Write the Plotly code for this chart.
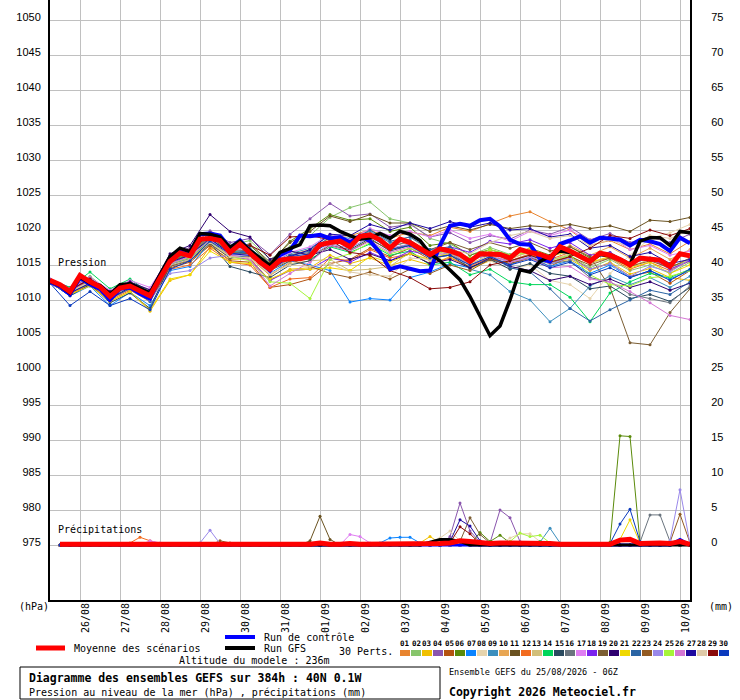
import datetime as dt
import plotly.graph_objects as go

run_start = dt.datetime(2026, 8, 25, 6)

# pression (hPa), pas de 6h de 0h a 384h
mean_pressure = [
    1012.8, 1012.2, 1011.2, 1013.5, 1012.6, 1011.9, 1010.5, 1011.7,
    1012.0, 1011.2, 1010.6, 1013.1, 1015.5, 1016.7, 1016.3, 1018.7,
    1018.8, 1018.5, 1016.8, 1018.0, 1016.6, 1015.4, 1014.4, 1015.7,
    1015.9, 1015.9, 1016.2, 1017.9, 1018.2, 1018.4, 1017.6, 1019.1,
    1019.3, 1018.6, 1017.4, 1018.7, 1018.2, 1017.4, 1016.5, 1017.3,
    1017.0, 1016.5, 1015.5, 1016.6, 1016.6, 1016.5, 1016.0, 1017.2,
    1016.8, 1016.5, 1016.0, 1017.6, 1017.0, 1016.3, 1015.5, 1016.7,
    1016.4, 1015.8, 1015.0, 1016.0, 1015.8, 1015.7, 1014.8, 1016.6,
    1016.3]
control_pressure = [
    1012.6, 1011.9, 1010.8, 1013.2, 1012.2, 1011.6, 1010.0, 1011.6,
    1011.8, 1010.9, 1010.2, 1013.4, 1015.9, 1017.1, 1016.8, 1019.4,
    1019.5, 1019.2, 1017.4, 1018.5, 1017.0, 1015.6, 1014.2, 1016.4,
    1017.1, 1019.2, 1019.1, 1019.3, 1018.8, 1019.0, 1018.2, 1019.2,
    1018.4, 1016.8, 1014.4, 1014.8, 1014.5, 1014.1, 1014.2, 1017.8,
    1020.6, 1020.9, 1020.6, 1021.4, 1021.6, 1020.5, 1018.6, 1018.0,
    1017.9, 1015.9, 1015.5, 1018.0, 1018.5, 1019.1, 1018.2, 1018.9,
    1018.8, 1018.6, 1017.8, 1018.6, 1018.4, 1018.0, 1017.0, 1018.9,
    1018.1]
gfs_pressure = [
    1012.7, 1012.1, 1011.0, 1013.3, 1012.4, 1012.1, 1010.8, 1012.2,
    1012.3, 1011.6, 1011.0, 1013.6, 1016.2, 1017.4, 1016.9, 1019.5,
    1019.4, 1019.0, 1017.5, 1018.4, 1017.1, 1016.0, 1014.9, 1016.8,
    1017.4, 1017.9, 1020.6, 1020.7, 1020.6, 1019.8, 1019.2, 1018.7,
    1018.9, 1019.5, 1018.8, 1019.8, 1019.4, 1018.5, 1016.6, 1015.6,
    1014.3, 1012.9, 1010.5, 1007.6, 1004.9, 1006.3, 1010.0, 1014.3,
    1014.0, 1015.5, 1016.2, 1017.0, 1016.8, 1016.3, 1015.5, 1016.5,
    1016.3, 1015.8, 1015.1, 1018.4, 1018.9, 1018.9, 1017.8, 1019.8,
    1019.6]

# perturbations, pas de 12h de 0h a 384h
pert01 = [1012.7, 1011.4, 1013.0, 1010.8, 1012.2, 1010.4, 1014.8, 1016.0, 1018.2, 1016.4, 1016.0, 1013.5, 1015.4, 1016.8, 1019.0, 1019.2, 1020.0,
          1018.8, 1019.7, 1019.2, 1020.4, 1019.8, 1020.9, 1022.0, 1022.6, 1021.2, 1020.0, 1017.8, 1018.5, 1017.2, 1018.0, 1016.6, 1018.4]
pert02 = [1012.9, 1011.5, 1013.4, 1011.1, 1012.6, 1011.2, 1016.0, 1017.1, 1019.4, 1017.8, 1018.5, 1015.8, 1017.6, 1019.2, 1021.8, 1023.2, 1024.0,
          1021.6, 1021.0, 1018.8, 1018.0, 1016.4, 1017.5, 1016.5, 1017.1, 1015.7, 1016.4, 1014.6, 1015.8, 1014.2, 1015.0, 1013.8, 1015.4]
pert03 = [1012.5, 1010.8, 1012.2, 1009.8, 1011.2, 1008.4, 1012.8, 1013.6, 1017.6, 1015.8, 1015.9, 1012.8, 1014.4, 1014.6, 1016.4, 1015.2, 1016.0,
          1014.9, 1015.8, 1015.0, 1016.2, 1014.5, 1015.6, 1015.4, 1016.5, 1015.4, 1015.8, 1014.2, 1015.4, 1013.7, 1014.5, 1013.2, 1012.8]
pert04 = [1013.0, 1011.8, 1013.2, 1011.2, 1012.5, 1011.5, 1016.4, 1017.5, 1019.9, 1018.2, 1018.8, 1016.5, 1019.4, 1021.6, 1023.8, 1022.0, 1022.3,
          1020.4, 1020.8, 1019.0, 1019.6, 1018.2, 1019.2, 1018.7, 1020.0, 1019.4, 1020.4, 1018.6, 1019.5, 1018.2, 1019.0, 1018.2, 1019.4]
pert05 = [1012.6, 1011.0, 1012.4, 1010.2, 1011.6, 1010.0, 1014.6, 1015.4, 1017.8, 1015.6, 1015.4, 1011.8, 1012.2, 1013.0, 1015.2, 1015.8, 1017.4,
          1016.2, 1017.4, 1015.8, 1016.6, 1015.0, 1016.0, 1015.2, 1016.0, 1014.8, 1016.2, 1014.4, 1015.2, 1013.4, 1014.0, 1012.4, 1014.2]
pert06 = [1012.8, 1011.3, 1012.8, 1010.6, 1012.4, 1011.0, 1015.8, 1016.8, 1019.2, 1017.4, 1017.8, 1015.2, 1018.4, 1020.2, 1022.2, 1021.4, 1021.6,
          1019.8, 1020.4, 1017.8, 1018.2, 1016.4, 1017.2, 1016.4, 1017.4, 1016.4, 1017.6, 1016.0, 1016.8, 1015.2, 1016.0, 1014.8, 1015.6]
pert07 = [1012.5, 1010.6, 1012.0, 1009.2, 1011.1, 1009.2, 1014.2, 1014.8, 1018.2, 1016.0, 1016.4, 1013.8, 1015.6, 1015.0, 1014.2, 1009.7, 1010.2,
          1010.0, 1013.2, 1014.0, 1015.2, 1014.6, 1015.8, 1015.0, 1016.2, 1014.8, 1015.6, 1013.8, 1015.0, 1013.2, 1014.2, 1013.0, 1014.2]
pert08 = [1012.7, 1011.2, 1012.7, 1010.6, 1012.1, 1010.6, 1015.2, 1016.2, 1018.6, 1017.0, 1017.2, 1014.8, 1016.2, 1016.4, 1018.6, 1018.2, 1020.0,
          1018.2, 1019.0, 1016.8, 1017.0, 1014.8, 1015.6, 1014.4, 1015.0, 1012.8, 1012.2, 1010.2, 1013.8, 1016.4, 1018.8, 1019.6, 1020.8]
pert09 = [1012.6, 1011.0, 1012.6, 1010.4, 1011.8, 1010.2, 1015.2, 1016.4, 1019.0, 1017.2, 1017.4, 1015.2, 1016.6, 1017.4, 1019.2, 1018.8, 1019.8,
          1018.2, 1018.6, 1016.6, 1017.2, 1014.4, 1013.6, 1011.2, 1010.0, 1006.9, 1008.8, 1012.0, 1013.4, 1012.2, 1013.2, 1011.8, 1013.4]
pert10 = [1012.8, 1011.4, 1013.0, 1011.0, 1012.4, 1010.8, 1015.4, 1016.5, 1019.2, 1017.2, 1017.0, 1014.6, 1016.4, 1017.2, 1018.8, 1018.0, 1019.4,
          1017.8, 1018.2, 1016.2, 1016.8, 1015.4, 1017.0, 1015.8, 1017.0, 1016.2, 1017.8, 1016.4, 1017.6, 1016.0, 1017.4, 1015.8, 1017.2]
pert11 = [1012.9, 1011.6, 1013.2, 1011.0, 1012.4, 1011.2, 1016.0, 1017.0, 1019.6, 1017.6, 1018.0, 1015.4, 1018.2, 1019.8, 1022.0, 1021.2, 1022.2,
          1021.0, 1021.0, 1019.8, 1020.6, 1020.0, 1020.8, 1020.2, 1020.6, 1020.4, 1020.8, 1020.2, 1020.6, 1019.8, 1021.4, 1021.2, 1021.8]
pert12 = [1012.4, 1010.8, 1012.2, 1010.0, 1011.4, 1009.8, 1014.4, 1015.0, 1017.4, 1015.4, 1015.0, 1011.8, 1013.0, 1013.2, 1016.0, 1015.6, 1017.2,
          1016.0, 1016.6, 1015.2, 1016.0, 1014.8, 1016.2, 1015.6, 1016.6, 1015.8, 1016.8, 1015.4, 1016.0, 1014.4, 1015.4, 1014.2, 1015.6]
pert13 = [1012.7, 1011.1, 1012.8, 1010.4, 1011.9, 1010.4, 1015.0, 1015.6, 1018.0, 1016.2, 1016.0, 1013.6, 1015.2, 1015.6, 1015.8, 1014.2, 1014.4,
          1014.8, 1016.8, 1015.6, 1016.6, 1015.2, 1016.4, 1016.0, 1016.8, 1015.6, 1016.6, 1015.2, 1016.2, 1014.8, 1015.8, 1014.4, 1015.8]
pert14 = [1012.8, 1011.8, 1014.0, 1011.6, 1013.0, 1011.0, 1015.6, 1016.6, 1018.6, 1017.0, 1016.6, 1014.2, 1016.0, 1015.8, 1017.6, 1016.8, 1018.0,
          1016.4, 1017.0, 1015.0, 1015.4, 1013.6, 1014.4, 1012.6, 1012.2, 1012.2, 1010.4, 1006.9, 1011.0, 1012.6, 1013.8, 1013.2, 1014.4]
pert15 = [1012.5, 1010.6, 1012.2, 1009.6, 1011.0, 1008.8, 1015.0, 1015.8, 1018.2, 1014.8, 1014.0, 1013.2, 1015.0, 1015.6, 1017.8, 1017.2, 1018.8,
          1017.0, 1017.8, 1016.0, 1016.4, 1014.6, 1015.8, 1014.4, 1015.2, 1013.8, 1013.4, 1011.6, 1012.0, 1010.2, 1010.8, 1009.8, 1011.8]
pert16 = [1012.6, 1011.2, 1012.6, 1010.5, 1012.0, 1010.6, 1015.8, 1016.6, 1019.2, 1017.2, 1017.0, 1014.8, 1016.4, 1016.8, 1018.6, 1018.0, 1019.2,
          1017.6, 1018.4, 1016.8, 1017.4, 1015.8, 1016.8, 1015.6, 1016.4, 1015.2, 1015.6, 1013.2, 1012.6, 1010.8, 1010.2, 1009.6, 1012.0]
pert17 = [1013.0, 1011.6, 1013.2, 1011.4, 1012.8, 1011.8, 1016.2, 1017.2, 1019.4, 1017.4, 1017.2, 1015.0, 1016.8, 1017.6, 1019.4, 1018.6, 1020.2,
          1019.2, 1019.8, 1019.0, 1020.0, 1018.8, 1019.4, 1018.4, 1019.8, 1019.2, 1020.0, 1018.4, 1019.0, 1017.2, 1017.8, 1016.4, 1017.0]
pert18 = [1012.7, 1011.2, 1012.6, 1010.4, 1012.0, 1010.4, 1015.2, 1016.0, 1018.4, 1016.2, 1015.8, 1012.8, 1014.2, 1014.4, 1016.0, 1015.4, 1016.8,
          1015.6, 1017.0, 1016.4, 1017.6, 1016.8, 1018.4, 1018.0, 1018.6, 1017.4, 1018.2, 1016.4, 1016.8, 1015.2, 1016.0, 1014.4, 1015.6]
pert19 = [1012.6, 1011.1, 1012.4, 1010.4, 1011.8, 1010.2, 1014.8, 1015.6, 1018.0, 1016.0, 1016.2, 1014.2, 1015.6, 1016.2, 1017.8, 1017.0, 1018.6,
          1017.2, 1018.0, 1017.2, 1018.2, 1017.2, 1018.2, 1017.4, 1018.2, 1017.0, 1017.6, 1016.2, 1011.8, 1003.9, 1003.6, 1008.2, 1011.6]
pert20 = [1012.9, 1011.4, 1013.0, 1011.2, 1012.6, 1011.4, 1016.6, 1017.8, 1022.2, 1019.8, 1019.0, 1015.8, 1017.0, 1016.4, 1017.2, 1015.8, 1016.6,
          1015.6, 1016.6, 1015.2, 1015.8, 1014.6, 1016.0, 1014.8, 1014.2, 1012.8, 1013.4, 1012.2, 1013.0, 1011.8, 1012.6, 1011.4, 1012.4]
pert21 = [1012.4, 1010.8, 1012.0, 1009.8, 1011.2, 1008.6, 1013.0, 1013.6, 1017.0, 1015.4, 1015.2, 1013.0, 1014.2, 1014.4, 1014.6, 1014.2, 1016.2,
          1015.4, 1016.6, 1015.8, 1016.8, 1015.6, 1016.8, 1016.2, 1017.4, 1016.2, 1017.0, 1015.4, 1016.2, 1014.6, 1015.4, 1013.8, 1015.0]
pert22 = [1012.6, 1011.0, 1012.4, 1010.2, 1011.6, 1009.8, 1015.0, 1016.0, 1018.6, 1016.8, 1017.0, 1014.6, 1016.4, 1017.0, 1019.0, 1018.4, 1020.0,
          1018.4, 1019.0, 1017.2, 1017.6, 1015.8, 1016.4, 1014.6, 1014.0, 1011.6, 1008.8, 1007.0, 1008.6, 1010.0, 1011.4, 1010.8, 1012.6]
pert23 = [1012.8, 1011.2, 1012.8, 1010.6, 1012.2, 1010.8, 1015.6, 1016.4, 1019.0, 1016.8, 1016.6, 1014.4, 1015.8, 1014.8, 1013.8, 1013.2, 1014.0,
          1013.0, 1014.4, 1013.8, 1015.0, 1014.2, 1015.8, 1015.2, 1016.0, 1015.2, 1016.2, 1015.0, 1016.0, 1014.8, 1015.6, 1014.6, 1016.0]
pert24 = [1012.7, 1011.2, 1012.6, 1010.5, 1011.9, 1010.0, 1013.8, 1014.2, 1016.0, 1016.4, 1016.4, 1014.2, 1016.0, 1016.2, 1018.0, 1017.4, 1019.0,
          1017.4, 1018.0, 1016.2, 1016.8, 1015.0, 1016.2, 1015.4, 1016.2, 1015.2, 1016.0, 1014.4, 1015.2, 1013.4, 1014.8, 1014.0, 1015.8]
pert25 = [1012.6, 1011.1, 1012.5, 1010.4, 1011.8, 1010.4, 1015.2, 1016.0, 1018.4, 1016.2, 1015.6, 1012.6, 1012.4, 1010.2, 1015.8, 1016.6, 1018.2,
          1016.6, 1017.4, 1016.2, 1017.2, 1016.0, 1017.2, 1016.4, 1016.8, 1015.4, 1016.4, 1013.6, 1012.2, 1012.0, 1013.2, 1013.4, 1014.2]
pert26 = [1012.8, 1011.3, 1012.7, 1010.7, 1012.2, 1010.6, 1015.2, 1016.2, 1018.6, 1016.4, 1015.8, 1012.0, 1013.8, 1015.4, 1017.8, 1017.0, 1018.4,
          1016.8, 1017.6, 1016.2, 1017.0, 1015.6, 1016.6, 1015.4, 1016.0, 1014.6, 1014.8, 1013.0, 1012.6, 1011.2, 1009.6, 1007.8, 1007.2]
pert27 = [1012.6, 1011.0, 1012.4, 1010.2, 1011.8, 1010.2, 1015.4, 1016.4, 1018.8, 1016.6, 1016.4, 1014.2, 1016.2, 1017.2, 1019.4, 1019.2, 1020.8,
          1020.0, 1021.0, 1020.2, 1021.2, 1020.4, 1021.0, 1020.0, 1020.2, 1019.0, 1019.4, 1017.4, 1017.8, 1016.2, 1016.8, 1015.2, 1015.8]
pert28 = [1012.7, 1011.2, 1012.6, 1010.4, 1012.0, 1010.4, 1015.0, 1015.8, 1018.2, 1016.2, 1016.0, 1013.8, 1015.0, 1014.8, 1015.2, 1014.0, 1013.6,
          1013.4, 1016.0, 1015.8, 1017.2, 1016.6, 1018.2, 1019.2, 1019.8, 1018.8, 1019.2, 1017.8, 1018.6, 1017.6, 1019.2, 1018.8, 1020.0]
pert29 = [1012.8, 1011.4, 1013.0, 1010.8, 1012.4, 1011.0, 1016.2, 1017.2, 1019.2, 1017.6, 1017.8, 1016.4, 1019.0, 1019.2, 1018.6, 1016.8, 1016.4,
          1014.2, 1013.2, 1011.6, 1011.8, 1012.6, 1015.0, 1015.6, 1016.4, 1015.4, 1016.2, 1017.4, 1019.2, 1018.8, 1020.0, 1019.2, 1020.2]
pert30 = [1012.4, 1009.2, 1011.2, 1009.2, 1010.2, 1008.6, 1014.4, 1015.6, 1018.4, 1016.6, 1016.8, 1014.4, 1016.2, 1016.6, 1018.2, 1018.0, 1019.2,
          1017.2, 1017.8, 1016.0, 1016.4, 1015.0, 1016.2, 1015.0, 1015.8, 1014.6, 1015.4, 1013.6, 1014.6, 1013.2, 1014.2, 1012.8, 1014.4]

pert_pressure = [pert01, pert02, pert03, pert04, pert05, pert06, pert07, pert08, pert09, pert10,
                 pert11, pert12, pert13, pert14, pert15, pert16, pert17, pert18, pert19, pert20,
                 pert21, pert22, pert23, pert24, pert25, pert26, pert27, pert28, pert29, pert30]

pert_colors = ["#e8842f", "#87c56b", "#f0c000", "#8a55ad", "#b45310", "#5a8a0a", "#0a84ff", "#e6d4ad",
               "#3c8fbe", "#e8a653", "#6a5220", "#f26b1f", "#d2bf7a", "#00d65a", "#2a4a5f", "#6a747e",
               "#df7ef2", "#7a22ee", "#7b5d32", "#2e0070", "#f0d800", "#2a64a4", "#925a22", "#9a88ea",
               "#a6f43a", "#d476d4", "#1e0aa0", "#dfcaa8", "#8a0a0a", "#0a3abe"]

# precipitations moyennes (mm), pas de 6h de 6h a 384h
mean_rain = [
    0.1, 0.1, 0.1, 0.1, 0.1, 0.1, 0.1, 0.1,
    0.2, 0.2, 0.1, 0.1, 0.1, 0.1, 0.1, 0.2,
    0.1, 0.1, 0.1, 0.1, 0.1, 0.1, 0.1, 0.1,
    0.1, 0.1, 0.3, 0.1, 0.1, 0.2, 0.1, 0.1,
    0.1, 0.2, 0.2, 0.2, 0.1, 0.2, 0.2, 0.3,
    0.6, 0.5, 0.3, 0.2, 0.3, 0.3, 0.3, 0.3,
    0.2, 0.2, 0.1, 0.1, 0.1, 0.1, 0.1, 0.1,
    0.7, 0.8, 0.2, 0.3, 0.3, 0.2, 0.5, 0.1]

# pluie des perturbations : (echeance en h, mm), 0 ailleurs
rain_p03 = [(222, 0.3), (228, 1.2), (234, 0.3)]
rain_p04 = [(240, 1.2), (246, 6.0), (252, 2.0), (258, 0.4), (264, 0.3), (270, 5.0), (276, 3.9), (282, 0.5)]
rain_p06 = [(258, 1.8), (264, 0.5), (270, 1.4), (276, 0.3), (336, 0.4), (342, 15.6), (348, 15.5), (354, 0.4)]
rain_p07 = [(198, 0.3), (204, 1.0), (210, 1.1), (216, 1.1), (222, 0.3)]
rain_p08 = [(228, 0.4), (234, 1.0), (240, 2.0), (246, 0.6), (276, 1.0), (282, 1.6), (288, 1.6), (294, 0.5)]
rain_p09 = [(294, 0.4), (300, 2.4), (306, 0.3)]
rain_p11 = [(156, 0.6), (162, 4.1), (168, 0.8)]
rain_p12 = [(48, 0.3), (54, 1.1), (60, 0.6), (66, 0.2)]
rain_p14 = [(294, 0.5), (300, 0.3)]
rain_p16 = [(354, 0.4), (360, 4.3), (366, 4.3), (372, 0.5)]
rain_p17 = [(60, 0.6), (66, 0.3), (180, 1.5), (186, 1.2), (192, 0.3)]
rain_p19 = [(246, 0.5), (252, 3.9), (258, 1.5), (264, 0.3)]
rain_p21 = [(342, 0.8), (348, 3.6), (354, 0.3)]
rain_p23 = [(102, 0.6), (108, 0.3), (372, 0.4), (378, 4.4), (384, 0.3)]
rain_p24 = [(90, 0.3), (96, 2.1), (102, 0.2), (372, 0.6), (378, 7.9), (384, 0.2)]
rain_p25 = [(276, 0.5), (282, 1.7), (288, 1.2), (294, 1.4), (300, 0.3)]
rain_p27 = [(240, 0.5), (246, 3.6), (252, 2.7), (258, 0.6)]
rain_p29 = [(240, 0.3), (246, 2.6), (252, 1.6), (258, 0.2)]
rain_p30 = [(336, 0.2), (342, 3.0), (348, 5.1), (354, 0.5)]
pert_rain = {3: rain_p03, 4: rain_p04, 6: rain_p06, 7: rain_p07, 8: rain_p08, 9: rain_p09,
             11: rain_p11, 12: rain_p12, 14: rain_p14, 16: rain_p16, 17: rain_p17, 19: rain_p19,
             21: rain_p21, 23: rain_p23, 24: rain_p24, 25: rain_p25, 27: rain_p27, 29: rain_p29,
             30: rain_p30}
control_rain = [(378, 0.8)]
gfs_rain = [(228, 0.4), (234, 0.8), (240, 0.8), (246, 0.5)]

pressure_ticks = list(range(975, 1051, 5))
rain_ticks = list(range(0, 76, 5))

h6 = list(range(0, 385, 6))
h12 = list(range(0, 385, 12))
h_rain = list(range(6, 385, 6))


def when(hours):
    return [run_start + dt.timedelta(hours=h) for h in hours]


def rain_series(events):
    mm = dict(events)
    return [mm.get(h, 0.0) for h in h_rain]


# position en pixels -> coordonnees papier (zone de trace 50..690 x 0..600)
def paper_x(px):
    return (px - 50) / 640


def paper_y(py):
    return (600 - py) / 600


MONO = "DejaVu Sans Mono"

fig = go.Figure()

# spaghetti pression
for vals, col in zip(pert_pressure, pert_colors):
    fig.add_trace(go.Scatter(x=when(h12), y=vals, mode="lines+markers",
                             line=dict(color=col, width=1),
                             marker=dict(color=col, size=3), yaxis="y"))

fig.add_trace(go.Scatter(x=when(h6), y=control_pressure, mode="lines",
                         line=dict(color="#0000ff", width=4), yaxis="y"))
fig.add_trace(go.Scatter(x=when(h6), y=gfs_pressure, mode="lines",
                         line=dict(color="#000000", width=3.5), yaxis="y"))
fig.add_trace(go.Scatter(x=when(h6), y=mean_pressure, mode="lines",
                         line=dict(color="#ff0000", width=5), yaxis="y"))

# precipitations sur l'axe de droite
for m, col in enumerate(pert_colors, start=1):
    fig.add_trace(go.Scatter(x=when(h_rain), y=rain_series(pert_rain.get(m, [])),
                             mode="lines+markers", line=dict(color=col, width=1),
                             marker=dict(color=col, size=3), yaxis="y2"))
fig.add_trace(go.Scatter(x=when(h_rain), y=rain_series(control_rain), mode="lines",
                         line=dict(color="#0000ff", width=3), yaxis="y2"))
fig.add_trace(go.Scatter(x=when(h_rain), y=rain_series(gfs_rain), mode="lines",
                         line=dict(color="#000000", width=3), yaxis="y2"))
fig.add_trace(go.Scatter(x=when(h_rain), y=mean_rain, mode="lines",
                         line=dict(color="#ff0000", width=5), yaxis="y2"))

shapes = [
    # cadre du titre
    dict(type="rect", xref="paper", yref="paper", x0=paper_x(20), x1=paper_x(440),
         y0=paper_y(699), y1=paper_y(667), line=dict(color="black", width=1)),
    # legende
    dict(type="line", xref="paper", yref="paper", x0=paper_x(36), x1=paper_x(65),
         y0=paper_y(648), y1=paper_y(648), line=dict(color="#ff0000", width=5)),
    dict(type="line", xref="paper", yref="paper", x0=paper_x(225), x1=paper_x(255),
         y0=paper_y(637), y1=paper_y(637), line=dict(color="#0000ff", width=4)),
    dict(type="line", xref="paper", yref="paper", x0=paper_x(225), x1=paper_x(255),
         y0=paper_y(648), y1=paper_y(648), line=dict(color="#000000", width=4)),
]
for i, col in enumerate(pert_colors):
    x0 = 400 + 11 * i
    shapes.append(dict(type="rect", xref="paper", yref="paper", x0=paper_x(x0), x1=paper_x(x0 + 10),
                       y0=paper_y(656), y1=paper_y(650), fillcolor=col, line=dict(width=0)))

annotations = []


def label(text, px, py, size=10, anchor="left"):
    annotations.append(dict(text=text, xref="paper", yref="paper", x=paper_x(px), y=paper_y(py),
                            xanchor=anchor, yanchor="middle", showarrow=False,
                            font=dict(family=MONO, size=size, color="black")))


label("Pression", 56, 262)
label("Précipitations", 56, 529)
label("(hPa)", 17, 606)
label("(mm)", 707, 606)
label("Moyenne des scénarios", 72, 648)
label("Run de contrôle", 262, 637)
label("Run GFS", 262, 648)
label("30 Perts.", 337, 651)
label("Altitude du modele : 236m", 177, 660)
label("<b>Diagramme des ensembles GEFS sur 384h : 40N 0.1W</b>", 27, 678, 11.5)
label("Pression au niveau de la mer (hPa) , précipitations (mm)", 27, 692)
label("Ensemble GEFS du 25/08/2026 - 06Z", 447, 672, 8.5)
label("<b>Copyright 2026 Meteociel.fr</b>", 447, 692, 11.5)
for i in range(30):
    label("<b>%02d</b>" % (i + 1), 405 + 11 * i, 643, 7.5, anchor="center")

fig.update_layout(
    width=740, height=700,
    margin=dict(l=50, r=50, t=0, b=100, pad=0),
    paper_bgcolor="white", plot_bgcolor="white",
    showlegend=False,
    shapes=shapes,
    annotations=annotations,
    xaxis=dict(
        type="date",
        range=[run_start, run_start + dt.timedelta(hours=384)],
        tick0="2026-08-26", dtick=86400000, tickformat="%d/%m",
        tickangle=-90, ticklabelshift=6, ticklabelstandoff=-3,
        tickfont=dict(family=MONO, size=10, color="black"),
        showgrid=True, gridcolor="#c0c0c0", gridwidth=1,
        showline=True, linecolor="black", linewidth=2,
        zeroline=False, ticks="",
    ),
    yaxis=dict(
        range=[975 - 55 / 7, 1050 + 20 / 7],
        tickvals=pressure_ticks,
        tickfont=dict(family="Liberation Sans", size=11, color="black"),
        ticklabelstandoff=5, ticklabelshift=-3,
        showgrid=True, gridcolor="#c0c0c0", gridwidth=1,
        showline=True, linecolor="black", linewidth=2,
        zeroline=False, ticks="",
    ),
    yaxis2=dict(
        overlaying="y", side="right",
        range=[-55 / 7, 75 + 20 / 7],
        tickvals=rain_ticks,
        tickfont=dict(family="Liberation Sans", size=11, color="black"),
        ticklabelstandoff=17, ticklabelshift=-3,
        showgrid=False,
        showline=True, linecolor="black", linewidth=2,
        zeroline=False, ticks="",
    ),
)

# la page ne doit pas decaler la figure (marge par defaut du body)
fig.write_html("out.html", config={"displayModeBar": False},
               post_script="document.body.style.margin='0';")
